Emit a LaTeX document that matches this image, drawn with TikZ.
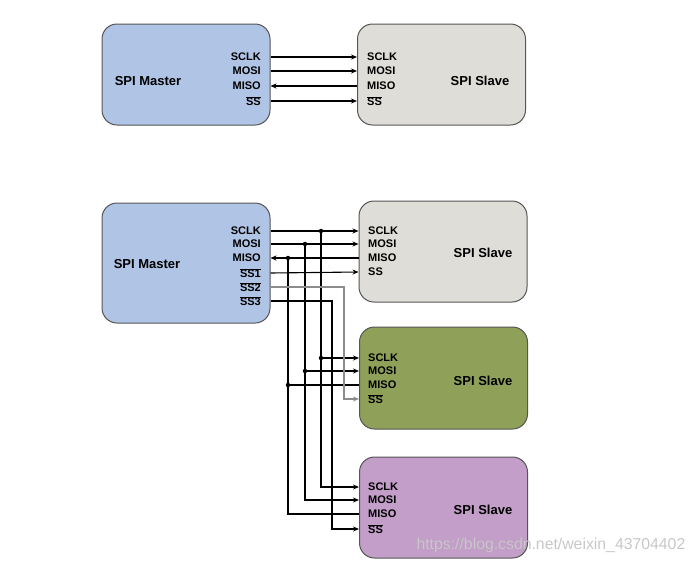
\documentclass[tikz,border=0pt]{standalone}
\usepackage{fontspec}
\setmainfont{Liberation Sans}
\usetikzlibrary{arrows.meta}

\definecolor{masterblue}{RGB}{176,197,229}
\definecolor{slavegray}{RGB}{222,221,215}
\definecolor{slaveolive}{RGB}{143,160,89}
\definecolor{slavepurple}{RGB}{194,158,200}
\definecolor{boxline}{RGB}{85,85,85}

\newcommand{\nbar}[1]{$\overline{\mbox{#1}}$}

\tikzset{
	unit/.style={draw=boxline, line width=1pt, rounded corners=15pt, minimum width=168pt},
	pinr/.style={anchor=east, inner sep=0pt, font=\bfseries\fontsize{11}{11}\selectfont},
	pinl/.style={anchor=west, inner sep=0pt, font=\bfseries\fontsize{11}{11}\selectfont},
	title/.style={font=\bfseries\fontsize{13}{13}\selectfont},
	wire/.style={line width=1.1pt},
	sig/.style={wire, -{Stealth[length=6pt,width=5pt]}},
	dot/.style={circle, fill, inner sep=0pt, minimum size=4.5pt}
}

\begin{document}
\begin{tikzpicture}[x=1pt, y=-1pt]
	\useasboundingbox (0,0) rectangle (696,563);

	% one master, one slave
	\node[unit, fill=masterblue, minimum height=101pt] (m1) at (186,74.5) {};
	\node[unit, fill=slavegray, minimum height=101pt] (s1) at (441.5,74.5) {};
	\node[title] (m1name) at (148,81) {SPI Master};
	\node[title] (s1name) at (480,81) {SPI Slave};
	\node[pinr] (m1clk) at (261,57) {SCLK};
	\node[pinr] (m1mosi) at (261,71) {MOSI};
	\node[pinr] (m1miso) at (261,86) {MISO};
	\node[pinr] (m1ss) at (261,101) {\nbar{SS}};
	\node[pinl] (s1clk) at (367,57) {SCLK};
	\node[pinl] (s1mosi) at (367,71) {MOSI};
	\node[pinl] (s1miso) at (367,86) {MISO};
	\node[pinl] (s1ss) at (367,101) {\nbar{SS}};
	\draw[sig] (m1.east |- m1clk) -- (s1.west |- s1clk);
	\draw[sig] (m1.east |- m1mosi) -- (s1.west |- s1mosi);
	\draw[sig] (s1.west |- s1miso) -- (m1.east |- m1miso);
	\draw[sig] (m1.east |- m1ss) -- (s1.west |- s1ss);

	% one master, three slaves
	\node[unit, fill=masterblue, minimum height=120pt] (m2) at (186,263) {};
	\node[unit, fill=slavegray, minimum height=101pt] (s2) at (443,251.5) {};
	\node[unit, fill=slaveolive, minimum height=102pt] (s3) at (443.5,378) {};
	\node[unit, fill=slavepurple, minimum height=101pt] (s4) at (443.5,507.5) {};
	\node[title] (m2name) at (147,264) {SPI Master};
	\node[title] (s2name) at (483,253) {SPI Slave};
	\node[title] (s3name) at (483,381) {SPI Slave};
	\node[title] (s4name) at (483,510) {SPI Slave};

	\node[pinr] (m2clk) at (261,231) {SCLK};
	\node[pinr] (m2mosi) at (261,244) {MOSI};
	\node[pinr] (m2miso) at (261,258) {MISO};
	\node[pinr] (m2ssa) at (261,273) {\nbar{SS1}};
	\node[pinr] (m2ssb) at (261,287) {\nbar{SS2}};
	\node[pinr] (m2ssc) at (261,301) {\nbar{SS3}};

	\node[pinl] (s2clk) at (368,231) {SCLK};
	\node[pinl] (s2mosi) at (368,244) {MOSI};
	\node[pinl] (s2miso) at (368,258) {MISO};
	\node[pinl] (s2ss) at (368,272) {SS};
	\node[pinl] (s3clk) at (368,358) {SCLK};
	\node[pinl] (s3mosi) at (368,371) {MOSI};
	\node[pinl] (s3miso) at (368,385) {MISO};
	\node[pinl] (s3ss) at (368,399) {\nbar{SS}};
	\node[pinl] (s4clk) at (368,487) {SCLK};
	\node[pinl] (s4mosi) at (368,500) {MOSI};
	\node[pinl] (s4miso) at (368,514) {MISO};
	\node[pinl] (s4ss) at (368,529) {\nbar{SS}};

	\coordinate (clkbus) at (321,0);
	\coordinate (mosibus) at (305,0);
	\coordinate (misobus) at (288,0);
	\coordinate (ssbbus) at (344,0);
	\coordinate (sscbus) at (332,0);

	\draw[sig] (m2.east |- m2clk) -- (s2.west |- s2clk);
	\draw[sig] (m2.east |- m2mosi) -- (s2.west |- s2mosi);
	\draw[sig] (s2.west |- s2miso) -- (m2.east |- m2miso);
	\draw[sig] (m2.east |- m2ssa) -- (s2.west |- s2ss);

	% shared lines run down to the lower slaves
	\draw[sig] (clkbus |- m2clk) -- (clkbus |- s4clk) -- (s4.west |- s4clk);
	\draw[sig] (mosibus |- m2mosi) -- (mosibus |- s4mosi) -- (s4.west |- s4mosi);
	\draw[wire] (misobus |- m2miso) -- (misobus |- s4miso) -- (s4.west |- s4miso);
	\draw[sig] (clkbus |- s3clk) -- (s3.west |- s3clk);
	\draw[sig] (mosibus |- s3mosi) -- (s3.west |- s3mosi);
	\draw[wire] (misobus |- s3miso) -- (s3.west |- s3miso);
	\node[dot] (jclka) at (clkbus |- m2clk) {};
	\node[dot] (jmosia) at (mosibus |- m2mosi) {};
	\node[dot] (jmisoa) at (misobus |- m2miso) {};
	\node[dot] (jclkb) at (clkbus |- s3clk) {};
	\node[dot] (jmosib) at (mosibus |- s3mosi) {};
	\node[dot] (jmisob) at (misobus |- s3miso) {};

	% own select line for each slave
	\draw[sig, draw=black!45] (m2.east |- m2ssb) -- (ssbbus |- m2ssb) -- (ssbbus |- s3ss) -- (s3.west |- s3ss);
	\draw[sig] (m2.east |- m2ssc) -- (sscbus |- m2ssc) -- (sscbus |- s4ss) -- (s4.west |- s4ss);

	\node[anchor=west, text=black!22, font=\fontsize{15.8}{16}\selectfont] (mark) at (413,545) {https://blog.csdn.net/weixin\_43704402};
\end{tikzpicture}
\end{document}
